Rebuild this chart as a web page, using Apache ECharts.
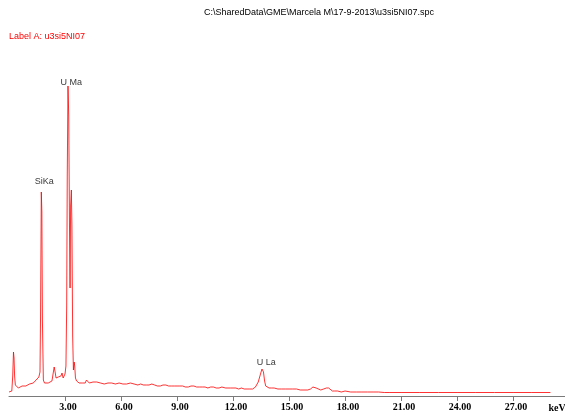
<!DOCTYPE html>
<html>
<head>
<meta charset="utf-8">
<script src="https://cdn.jsdelivr.net/npm/echarts@6/dist/echarts.min.js"></script>
<style>
html,body{margin:0;padding:0;background:#fff;}
#chart{width:565px;height:413px;}
</style>
</head>
<body>
<div id="chart"></div>
<script>
// Spectrum: energy (keV) and counts (relative)
var energy = [
  0.00,0.10,0.15,0.20,0.24,0.27,0.30,0.34,0.40,0.50,0.60,0.70,0.80,0.90,1.00,1.10,1.20,1.30,1.40,1.45,1.50,1.55,1.60,
  1.63,1.66,1.69,1.73,1.76,1.79,1.84,1.90,2.00,2.10,2.20,2.30,2.36,2.42,2.47,2.52,2.58,2.64,2.70,2.78,2.84,2.90,2.96,
  3.00,3.05,3.09,3.12,3.16,3.20,3.24,3.27,3.30,3.34,3.37,3.41,3.45,3.49,3.52,3.56,3.62,3.68,3.76,3.84,3.92,4.00,4.08,
  4.15,4.22,4.30,4.40,4.50,4.60,4.70,4.80,4.90,5.00,5.10,5.20,5.30,5.40,5.50,5.60,5.70,5.80,5.90,6.00,6.10,6.20,6.30,
  6.40,6.50,6.60,6.70,6.80,6.90,7.05,7.20,7.35,7.50,7.65,7.80,7.95,8.10,8.25,8.40,8.55,8.70,8.85,9.00,9.15,9.30,9.45,
  9.60,9.75,9.90,10.05,10.20,10.35,10.50,10.65,10.80,10.95,11.10,11.25,11.40,11.50,11.60,11.70,11.85,12.00,12.15,12.30,
  12.45,12.60,12.75,12.90,13.05,13.20,13.35,13.47,13.55,13.63,13.69,13.75,13.83,13.93,14.05,14.20,14.40,14.60,14.80,
  15.00,15.20,15.40,15.60,15.80,16.00,16.15,16.28,16.38,16.45,16.55,16.70,16.85,17.00,17.12,17.22,17.32,17.45,17.60,
  17.80,18.00,18.30,18.60,18.90,19.20,19.50,19.80,20.10,20.40,21.00,22.00,23.00,24.00,25.00,26.00,27.00,28.00,29.00,29.78
];
var counts = [
  4,4,5,20,44,38,20,11,10,8,8,10,11,10,12,12,13,13,14,16,15,18,19,
  21,24,80,204,184,76,16,13,14,13,14,15,17,29,24,18,16,19,17,20,23,18,20,
  22,30,90,220,310,280,170,108,190,206,170,60,26,34,30,18,15,14,13,12,13,12,13,
  16,15,13,13,14,13,14,13,13,14,12,13,13,12,13,13,12,12,13,12,12,13,12,
  12,13,14,12,12,11,12,11,11,11,12,11,10,10,11,11,10,10,10,10,10,10,9,
  9,10,10,9,9,9,9,8,9,9,8,8,9,10,8,8,8,8,8,
  7,8,7,7,7,7,9,14,22,27,24,15,10,8,8,8,8,7,7,
  7,7,7,7,6,6,6,7,9,10,8,6,6,7,8,8,7,5,5,
  5,4,5,4,4,4,4,4,4,3.5,3.5,3.5,3.5,3.5,3.5,3.5,3.5,3.5,3.5,3.5
];
// Peak identification labels
var peakNames = ['SiKa','U Ma','U La'];
var peakEnergy = [1.73,3.17,13.62];
var peakLabelLevel = [214,313,33];
// Axis ticks
var tickValues = [3,6,9,12,15,18,21,24,27];
var titleText = 'C:\\SharedData\\GME\\Marcela M\\17-9-2013\\u3si5NI07.spc';
var labelText = 'Label A: u3si5NI07';

var lineData = energy.map(function(e,i){return [e,counts[i]];});
var labelData = peakNames.map(function(n,i){return {name:n,value:[peakEnergy[i],peakLabelLevel[i]]};});

var chart = echarts.init(document.getElementById('chart'),null,{renderer:'canvas'});
chart.setOption({
  animation:false,
  backgroundColor:'#ffffff',
  grid:{left:9,right:0,top:46,bottom:17,containLabel:false},
  xAxis:{
    type:'value',min:0,max:29.78,
    splitLine:{show:false},
    axisLine:{lineStyle:{color:'#7a7a7a',width:1}},
    axisTick:{show:true,length:5,customValues:tickValues,lineStyle:{color:'#7a7a7a'}},
    axisLabel:{customValues:tickValues,margin:6,padding:[0,0,0,6],
      formatter:function(v){return v.toFixed(2);},
      fontFamily:'Liberation Serif',fontWeight:'bold',fontSize:10,color:'#000'}
  },
  yAxis:{type:'value',min:0,max:350,show:false,splitLine:{show:false}},
  graphic:[
    {type:'text',x:319,y:13,style:{text:titleText,textAlign:'center',textVerticalAlign:'middle',
      font:'9px "Liberation Sans", Arial',fill:'#000'}},
    {type:'text',x:9,y:37,style:{text:labelText,textAlign:'left',textVerticalAlign:'middle',
      font:'9px "Liberation Sans", Arial',fill:'#ff0000'}},
    {type:'text',x:557,y:408,style:{text:'keV',textAlign:'center',textVerticalAlign:'middle',
      font:'bold 10px "Liberation Serif"',fill:'#000'}}
  ],
  series:[
    {type:'line',data:lineData,showSymbol:false,sampling:'none',silent:true,
      lineStyle:{color:'rgba(255,0,0,0.8)',width:1},z:2},
    {type:'scatter',data:labelData,symbolSize:1,itemStyle:{color:'rgba(0,0,0,0)'},silent:true,
      label:{show:true,position:'inside',offset:[3,0],formatter:function(p){return p.name;},
        fontFamily:'"Liberation Sans", Arial',fontSize:9,color:'#000'},z:3}
  ]
});
</script>
</body>
</html>
